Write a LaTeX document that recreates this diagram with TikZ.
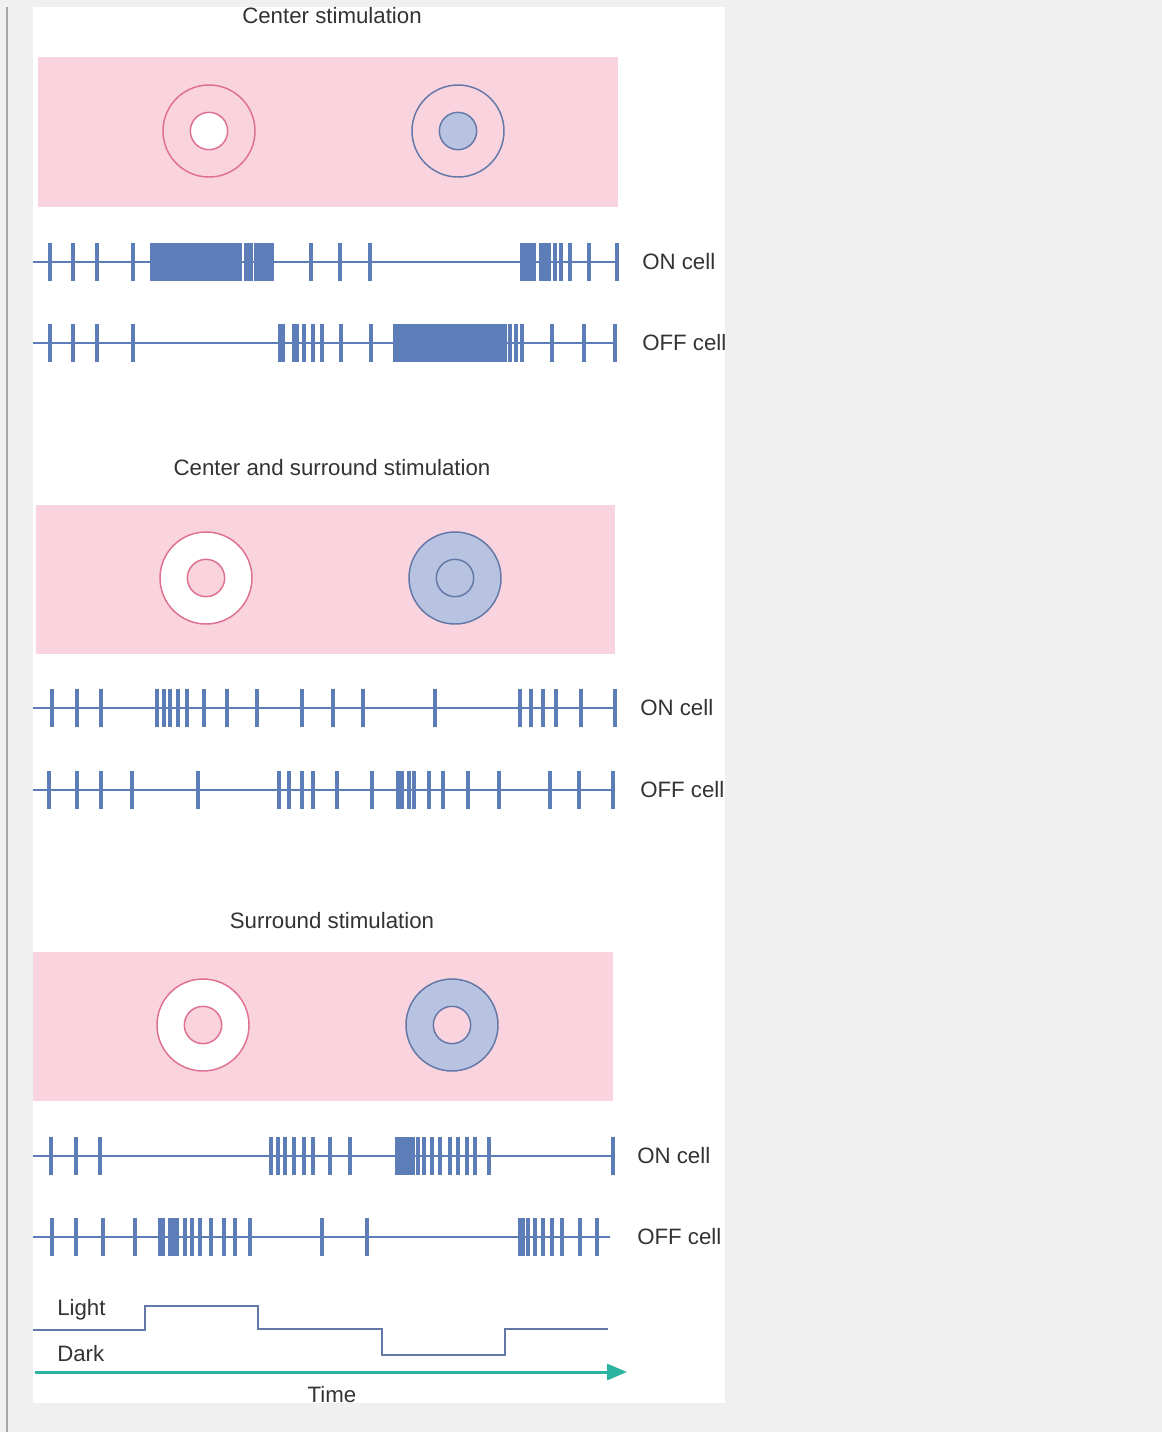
\documentclass[tikz,border=0pt]{standalone}
\usepackage{fontspec}
\setmainfont{Liberation Sans}
\usetikzlibrary{arrows.meta}
\definecolor{pagegray}{HTML}{F0F0F0}
\definecolor{fieldpink}{HTML}{F9D3DE}
\definecolor{ringpink}{HTML}{E0708F}
\definecolor{spikeblue}{HTML}{5D7DB8}
\definecolor{ringblue}{HTML}{6478A8}
\definecolor{fillblue}{HTML}{B7C3E0}
\definecolor{timeteal}{HTML}{2AB3A0}
\tikzset{
  txt/.style={font=\fontsize{16.7}{20}\selectfont,text=black!80,inner sep=0pt},
  field/.style={fill=fieldpink},
  ring/.style={circle,inner sep=0pt,minimum size=69pt,line width=1.1pt},
  hole/.style={circle,inner sep=0pt,minimum size=28pt,line width=1.1pt},
  trainline/.style={line width=1.5pt,spikeblue},
  spike/.style={line width=2.3pt,spikeblue},
  burst/.style={fill=spikeblue},
  stimline/.style={line width=1.5pt,ringblue},
  timearr/.style={-{Triangle[length=15pt,width=12pt]},line width=2.25pt,timeteal}
}
% one spike train: y, end of line, spike positions
\newcommand{\spktrain}[3]{%
  \draw[trainline] (33,#1)--(#2,#1);
  \foreach \s in {#3} \draw[spike] (\s,#1-19)--(\s,#1+19);
}
\begin{document}
\begin{tikzpicture}[x=0.75pt,y=-0.75pt]
  \useasboundingbox (0,0) rectangle (1162,1432);
  \fill[pagegray] (0,0) rectangle (1162,1432);
  \fill[white] (33,7) rectangle (725,1403);
  \draw[line width=1.5pt,gray!70] (7,7)--(7,1432);

  % center stimulation
  \node[txt] (t1) at (332,16) {Center stimulation};
  \fill[field] (38,57) rectangle (618,207);
  \node[ring,draw=ringpink] (c1a) at (209,131) {};
  \node[hole,draw=ringpink,fill=white] (h1a) at (209,131) {};
  \node[ring,draw=ringblue] (c1b) at (458,131) {};
  \node[hole,draw=ringblue,fill=fillblue] (h1b) at (458,131) {};
  \spktrain{262}{617}{50,73,97,133,256,260,264,268,272,311,340,370,522,526,530,534,555,561,570,589,617}
  \foreach \a/\b in {150/242,244/253,539/551} \fill[burst] (\a,243) rectangle (\b,281);
  \spktrain{343}{615}{50,73,97,133,304,313,322,341,371,505,510,516,522,552,584,615}
  \foreach \a/\b in {278/285,292/299,393/503} \fill[burst] (\a,324) rectangle (\b,362);
  \node[txt,anchor=west] (on1) at (642,262) {ON cell};
  \node[txt,anchor=west] (off1) at (642,343) {OFF cell};

  % center and surround stimulation
  \node[txt] (t2) at (332,468) {Center and surround stimulation};
  \fill[field] (36,505) rectangle (615,654);
  \node[ring,draw=ringpink,fill=white] (c2a) at (206,578) {};
  \node[hole,draw=ringpink,fill=fieldpink] (h2a) at (206,578) {};
  \node[ring,draw=ringblue,fill=fillblue] (c2b) at (455,578) {};
  \node[hole,draw=ringblue,fill=fillblue] (h2b) at (455,578) {};
  \spktrain{708}{615}{52,77,101,157,164,170,178,187,204,227,257,302,333,363,435,520,531,543,556,581,615}
  \spktrain{790}{613}{49,77,101,132,198,279,289,302,313,337,372,398,402,409,414,429,443,468,499,550,579,613}
  \node[txt,anchor=west] (on2) at (640,708) {ON cell};
  \node[txt,anchor=west] (off2) at (640,790) {OFF cell};

  % surround stimulation
  \node[txt] (t3) at (332,921) {Surround stimulation};
  \fill[field] (33,952) rectangle (613,1101);
  \node[ring,draw=ringpink,fill=white] (c3a) at (203,1025) {};
  \node[hole,draw=ringpink,fill=fieldpink] (h3a) at (203,1025) {};
  \node[ring,draw=ringblue,fill=fillblue] (c3b) at (452,1025) {};
  \node[hole,draw=ringblue,fill=fieldpink] (h3b) at (452,1025) {};
  \spktrain{1156}{613}{51,76,100,271,278,285,294,304,313,330,350,397,401,405,409,413,418,424,432,440,450,458,467,475,489,613}
  \spktrain{1237}{610}{52,76,103,135,185,192,200,211,224,235,250,322,367,520,523,528,535,543,552,562,580,597}
  \foreach \a/\b in {158/165,168/179} \fill[burst] (\a,1218) rectangle (\b,1256);
  \node[txt,anchor=west] (on3) at (637,1156) {ON cell};
  \node[txt,anchor=west] (off3) at (637,1237) {OFF cell};

  % light trace and time axis
  \draw[stimline] (33,1330)--(145,1330)--(145,1306)--(258,1306)--(258,1329)--(382,1329)
    --(382,1355)--(505,1355)--(505,1329)--(608,1329);
  \node[txt,anchor=west] (light) at (57,1310) {Light};
  \node[txt,anchor=west] (dark) at (57,1354) {Dark};
  \coordinate (t0) at (35,1372);
  \coordinate (t1end) at (627,1372);
  \draw[timearr] (t0)--(t1end);
  \node[txt] (time) at (332,1395) {Time};
\end{tikzpicture}
\end{document}
